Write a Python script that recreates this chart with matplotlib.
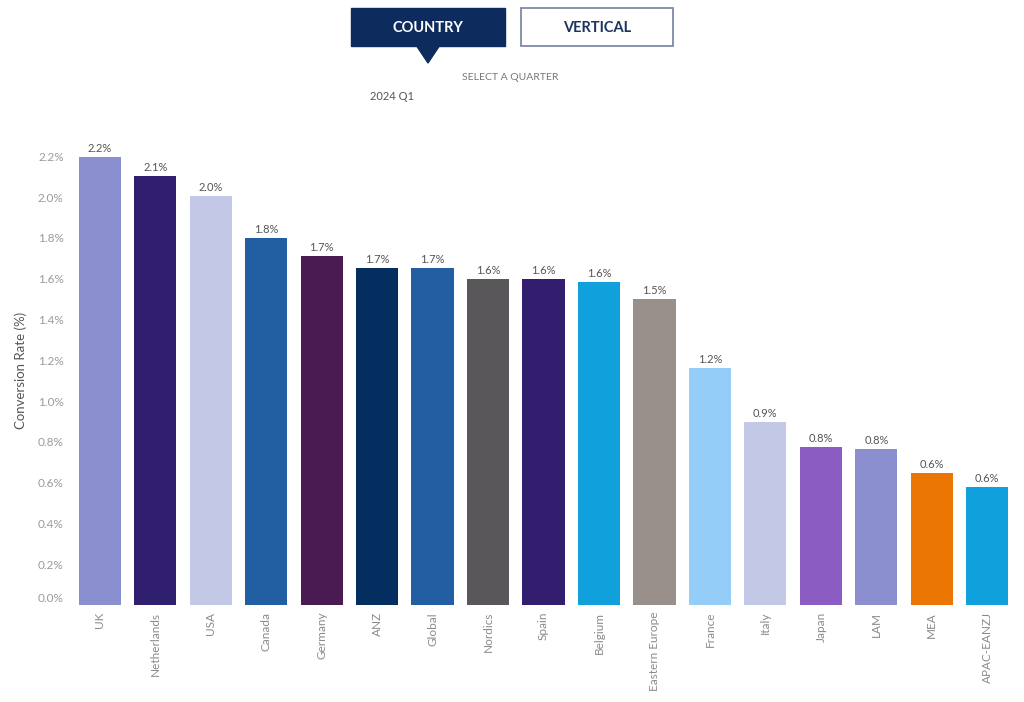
import matplotlib.pyplot as plt
from matplotlib.patches import Rectangle, Polygon
from matplotlib.ticker import FuncFormatter
import matplotlib.transforms as mtransforms

plt.rcParams['font.family'] = ['Lato', 'DejaVu Sans']

# Data
countries = ['UK', 'Netherlands', 'USA', 'Canada', 'Germany', 'ANZ', 'Global',
             'Nordics', 'Spain', 'Belgium', 'Eastern Europe', 'France', 'Italy',
             'Japan', 'LAM', 'MEA', 'APAC-EANZJ']
rates = [2.196, 2.103, 2.005, 1.80, 1.711, 1.653, 1.653, 1.60, 1.598, 1.585,
         1.499, 1.162, 0.896, 0.776, 0.766, 0.646, 0.578]
colors = ['#8a8fd0', '#301e6e', '#c2c8e6', '#225fa2', '#4a1a52', '#032e5f',
          '#225ea1', '#595759', '#321d6e', '#10a0db', '#9a908b', '#94cdf8',
          '#c2c8e6', '#8b5cc2', '#8b8fd0', '#ec7604', '#10a0db']
yticks = [0.0, 0.2, 0.4, 0.6, 0.8, 1.0, 1.2, 1.4, 1.6, 1.8, 2.0, 2.2]

fig = plt.figure(figsize=(10.24, 7.02), dpi=100)

# header controls drawn in pixel space
hdr = fig.add_axes([0, 0, 1, 1])
hdr.set_xlim(0, 1024)
hdr.set_ylim(702, 0)
hdr.axis('off')
navy = '#0d2b5c'
hdr.add_patch(Rectangle((351, 8), 154, 38, facecolor=navy, edgecolor=navy))
hdr.add_patch(Polygon([(416, 45), (440, 45), (428, 63)], closed=True,
                      facecolor=navy, edgecolor=navy))
hdr.add_patch(Rectangle((521, 8), 152, 38, facecolor='white',
                        edgecolor='#7f8aa8', linewidth=1.3))
hdr.text(428, 27.5, 'COUNTRY', color='white', fontsize=10.5, fontweight='bold',
         ha='center', va='center')
hdr.text(597, 27.5, 'VERTICAL', color='#1d3461', fontsize=10.5, fontweight='bold',
         ha='center', va='center')
hdr.text(510, 78, 'SELECT A QUARTER', color='#777777', fontsize=7.5,
         ha='center', va='center')
hdr.text(370, 97, '2024 Q1', color='#555555', fontsize=8,
         ha='left', va='center')

ax = fig.add_axes([72 / 1024, 97 / 702, 943 / 1024, 2.3 * 204 / 702])
x = range(len(countries))
bars = ax.bar(x, rates, width=0.76, color=colors)
for xi, v in zip(x, rates):
    ax.annotate(f'{v:.1f}%', (xi, v), xytext=(0, 2), textcoords='offset points',
                ha='center', va='bottom', fontsize=8, color='#555555')

ax.set_xlim(-0.5, len(countries) - 0.5)
ax.set_ylim(0, 2.3)
ax.set_yticks(yticks)
ax.yaxis.set_major_formatter(FuncFormatter(lambda v, p: f'{v:.1f}%'))
ax.set_xticks(list(x))
ax.set_xticklabels(countries, rotation=90, fontsize=8.5, color='#8a8a8a')
ax.tick_params(axis='y', labelsize=8.5, labelcolor='#9a9a9a', length=0, pad=6)
ax.tick_params(axis='x', length=0, pad=5)
for s in ax.spines.values():
    s.set_visible(False)
ax.set_ylabel('Conversion Rate (%)', fontsize=9.5, color='#555555', labelpad=8)

# lift the 0.0% label a bit, as in the dashboard
lbl = ax.get_yticklabels()[0]
lbl.set_transform(lbl.get_transform() +
                  mtransforms.ScaledTranslation(0, 8 / 100, fig.dpi_scale_trans))

plt.savefig('out.png', dpi=100)
